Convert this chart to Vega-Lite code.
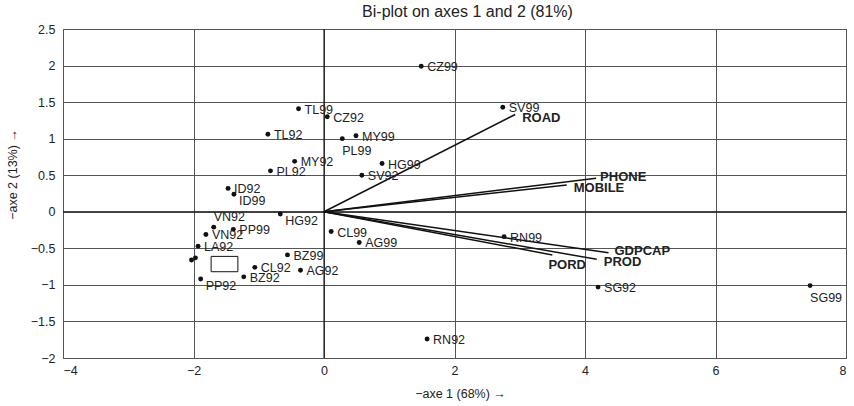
{
  "$schema": "https://vega.github.io/schema/vega-lite/v6.json",
  "width": 783,
  "height": 329,
  "autosize": {"type": "none"},
  "padding": {"left": 63, "top": 29, "right": 8, "bottom": 48},
  "background": "white",
  "title": {"text": "Bi-plot on axes 1 and 2 (81%)", "font": "Liberation Sans", "fontSize": 16, "fontWeight": "normal", "color": "#222", "anchor": "middle", "dx": 13, "offset": 3},
  "config": {
    "view": {"stroke": "#444", "strokeWidth": 1},
    "text": {"font": "Liberation Sans"},
    "axis": {"labelFont": "Liberation Sans", "titleFont": "Liberation Sans", "labelFontSize": 12.5, "titleFontSize": 12.5, "labelColor": "#222", "titleColor": "#222", "titleFontWeight": "normal", "ticks": false, "domain": false, "grid": true, "gridColor": "#555", "gridOpacity": 1, "gridWidth": 1}
  },
  "datasets": {
    "obs": [
      {"id": "CZ99", "x": 1.49, "y": 1.99, "lp": "r"},
      {"id": "SV99", "x": 2.74, "y": 1.43, "lp": "r"},
      {"id": "TL99", "x": -0.39, "y": 1.41, "lp": "r"},
      {"id": "CZ92", "x": 0.05, "y": 1.30, "lp": "r"},
      {"id": "TL92", "x": -0.86, "y": 1.06, "lp": "r"},
      {"id": "MY99", "x": 0.49, "y": 1.04, "lp": "r"},
      {"id": "PL99", "x": 0.28, "y": 1.00, "lp": "b"},
      {"id": "HG99", "x": 0.89, "y": 0.66, "lp": "r"},
      {"id": "MY92", "x": -0.45, "y": 0.69, "lp": "r"},
      {"id": "PL92", "x": -0.82, "y": 0.56, "lp": "r"},
      {"id": "SV92", "x": 0.58, "y": 0.50, "lp": "r"},
      {"id": "ID92", "x": -1.47, "y": 0.32, "lp": "r"},
      {"id": "ID99", "x": -1.38, "y": 0.24, "lp": "br"},
      {"id": "HG92", "x": -0.67, "y": -0.03, "lp": "br"},
      {"id": "VN92", "x": -1.69, "y": -0.21, "lp": "a"},
      {"id": "PP99", "x": -1.39, "y": -0.24, "lp": "r"},
      {"id": "VN92", "x": -1.81, "y": -0.31, "lp": "r"},
      {"id": "CL99", "x": 0.11, "y": -0.27, "lp": "r"},
      {"id": "AG99", "x": 0.54, "y": -0.42, "lp": "r"},
      {"id": "LA92", "x": -1.93, "y": -0.47, "lp": "r"},
      {"id": "RN99", "x": 2.76, "y": -0.34, "lp": "r"},
      {"id": "BZ99", "x": -0.56, "y": -0.59, "lp": "r"},
      {"id": "", "x": -2.03, "y": -0.66, "lp": "r"},
      {"id": "", "x": -1.97, "y": -0.63, "lp": "r"},
      {"id": "CL92", "x": -1.06, "y": -0.76, "lp": "r"},
      {"id": "AG92", "x": -0.36, "y": -0.80, "lp": "r"},
      {"id": "BZ92", "x": -1.23, "y": -0.89, "lp": "r"},
      {"id": "PP92", "x": -1.89, "y": -0.92, "lp": "br"},
      {"id": "SG92", "x": 4.20, "y": -1.03, "lp": "r"},
      {"id": "SG99", "x": 7.45, "y": -1.01, "lp": "b"},
      {"id": "RN92", "x": 1.58, "y": -1.74, "lp": "r"}
    ],
    "vars": [
      {"id": "ROAD", "x": 2.93, "y": 1.33, "lp": "rd"},
      {"id": "PHONE", "x": 4.17, "y": 0.46, "lp": "r"},
      {"id": "MOBILE", "x": 3.72, "y": 0.365, "lp": "rd"},
      {"id": "GDPCAP", "x": 4.36, "y": -0.56, "lp": "ru"},
      {"id": "PROD", "x": 4.18, "y": -0.65, "lp": "rd"},
      {"id": "PORD", "x": 3.50, "y": -0.59, "lp": "b"}
    ],
    "box": [
      {"x": -1.73, "x2": -1.32, "y": -0.61, "y2": -0.82}
    ],
    "axes0": [
      {"x": 0, "x2": 0, "y": -2, "y2": 2.5},
      {"x": -4, "x2": 8, "y": 0, "y2": 0}
    ]
  },
  "encoding": {
    "x": {"field": "x", "type": "quantitative", "scale": {"domain": [-4, 8], "nice": false, "zero": false}, "axis": {"values": [-4, -2, 0, 2, 4, 6, 8], "format": "~g", "title": "−axe 1 (68%) →", "labelPadding": 6, "titleX": 397, "titleY": 35, "titleBaseline": "middle"}},
    "y": {"field": "y", "type": "quantitative", "scale": {"domain": [-2, 2.5], "nice": false, "zero": false}, "axis": {"values": [-2, -1.5, -1, -0.5, 0, 0.5, 1, 1.5, 2, 2.5], "format": "~g", "title": "−axe 2 (13%) →", "labelPadding": 8, "titleX": -51, "titleY": 145, "titleBaseline": "middle", "titleAngle": 270}}
  },
  "layer": [
    {
      "data": {"name": "box"},
      "mark": {"type": "rect", "fill": "white", "stroke": "#111", "strokeWidth": 1},
      "encoding": {
        "x2": {"field": "x2"},
        "y2": {"field": "y2"}
      }
    },
    {
      "data": {"name": "axes0"},
      "mark": {"type": "rule", "color": "#000", "strokeWidth": 1},
      "encoding": {
        "x2": {"field": "x2"},
        "y2": {"field": "y2"}
      }
    },
    {
      "data": {"name": "vars"},
      "mark": {"type": "rule", "color": "#111", "strokeWidth": 1.5},
      "encoding": {
        "x2": {"datum": 0},
        "y2": {"datum": 0}
      }
    },
    {
      "data": {"name": "obs"},
      "mark": {"type": "circle", "color": "#111", "opacity": 1, "size": 24},
      "encoding": {}
    },
    {
      "data": {"name": "obs"},
      "transform": [{"filter": "datum.lp === 'r'"}],
      "mark": {"type": "text", "align": "left", "baseline": "middle", "dx": 6, "dy": 1, "fontSize": 12.5, "color": "#222"},
      "encoding": {"text": {"field": "id"}}
    },
    {
      "data": {"name": "obs"},
      "transform": [{"filter": "datum.lp === 'br'"}],
      "mark": {"type": "text", "align": "left", "baseline": "middle", "dx": 5, "dy": 7, "fontSize": 12.5, "color": "#222"},
      "encoding": {"text": {"field": "id"}}
    },
    {
      "data": {"name": "obs"},
      "transform": [{"filter": "datum.lp === 'b'"}],
      "mark": {"type": "text", "align": "left", "baseline": "middle", "dx": 0, "dy": 12, "fontSize": 12.5, "color": "#222"},
      "encoding": {"text": {"field": "id"}}
    },
    {
      "data": {"name": "obs"},
      "transform": [{"filter": "datum.lp === 'a'"}],
      "mark": {"type": "text", "align": "left", "baseline": "middle", "dx": 0, "dy": -10, "fontSize": 12.5, "color": "#222"},
      "encoding": {"text": {"field": "id"}}
    },
    {
      "data": {"name": "vars"},
      "transform": [{"filter": "datum.lp === 'r'"}],
      "mark": {"type": "text", "align": "left", "baseline": "middle", "dx": 4, "dy": -1, "fontSize": 13, "fontWeight": "bold", "color": "#222"},
      "encoding": {"text": {"field": "id"}}
    },
    {
      "data": {"name": "vars"},
      "transform": [{"filter": "datum.lp === 'rd'"}],
      "mark": {"type": "text", "align": "left", "baseline": "middle", "dx": 7, "dy": 3, "fontSize": 13, "fontWeight": "bold", "color": "#222"},
      "encoding": {"text": {"field": "id"}}
    },
    {
      "data": {"name": "vars"},
      "transform": [{"filter": "datum.lp === 'ru'"}],
      "mark": {"type": "text", "align": "left", "baseline": "middle", "dx": 6, "dy": -2, "fontSize": 13, "fontWeight": "bold", "color": "#222"},
      "encoding": {"text": {"field": "id"}}
    },
    {
      "data": {"name": "vars"},
      "transform": [{"filter": "datum.lp === 'b'"}],
      "mark": {"type": "text", "align": "left", "baseline": "middle", "dx": -4, "dy": 10, "fontSize": 13, "fontWeight": "bold", "color": "#222"},
      "encoding": {"text": {"field": "id"}}
    }
  ]
}
